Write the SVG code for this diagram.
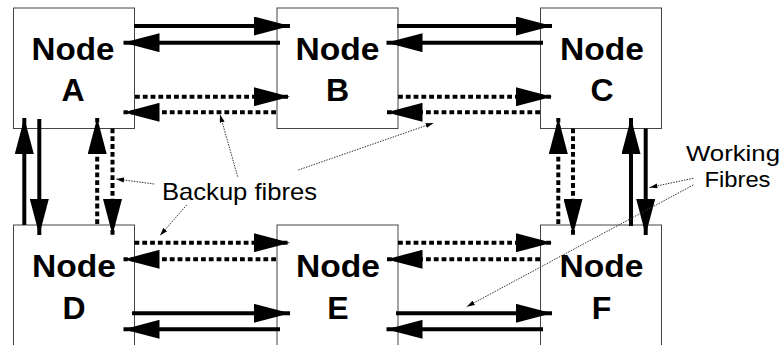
<svg xmlns="http://www.w3.org/2000/svg" width="783" height="345" viewBox="0 0 783 345">
<style>
.box{fill:#fff;stroke:#444;stroke-width:1}
.nt{font-family:"Liberation Sans",Arial,sans-serif;font-weight:bold;font-size:32px;fill:#000;text-anchor:middle}
.lbl{font-family:"Liberation Sans",Arial,sans-serif;font-size:24px;fill:#000}
.wf{font-family:"Liberation Sans",Arial,sans-serif;font-size:22px;fill:#000}
.s{fill:none;stroke:#000;stroke-width:4;marker-end:url(#ah)}
.d{fill:none;stroke:#000;stroke-width:4;stroke-dasharray:4.8 3;marker-end:url(#ah)}
.ld{fill:none;stroke:#333;stroke-width:1;stroke-dasharray:1.5 1.2;marker-end:url(#sa)}
</style>
<defs>
<marker id="ah" markerUnits="userSpaceOnUse" markerWidth="36" markerHeight="19" refX="36" refY="9.5" orient="auto">
<path d="M0,0 L36,9.5 L0,19 z" fill="#000"/>
</marker>
<marker id="sa" markerUnits="userSpaceOnUse" markerWidth="8" markerHeight="5" refX="8" refY="2.5" orient="auto">
<path d="M0,0 L8,2.5 L0,5 z" fill="#000"/>
</marker>
</defs>
<g id="nodeA"><rect class="box" x="13.5" y="8" width="121" height="120.5"/><text class="nt" x="73" y="60" textLength="83" lengthAdjust="spacingAndGlyphs">Node</text><text class="nt" x="73" y="101">A</text></g>
<g id="nodeB"><rect class="box" x="277" y="8" width="121" height="120.5"/><text class="nt" x="337.5" y="60" textLength="84" lengthAdjust="spacingAndGlyphs">Node</text><text class="nt" x="337.5" y="101">B</text></g>
<g id="nodeC"><rect class="box" x="540.5" y="8" width="121" height="120.5"/><text class="nt" x="602" y="60" textLength="84" lengthAdjust="spacingAndGlyphs">Node</text><text class="nt" x="602" y="101">C</text></g>
<g id="nodeD"><rect class="box" x="13.5" y="225" width="121" height="130"/><text class="nt" x="74" y="277" textLength="84" lengthAdjust="spacingAndGlyphs">Node</text><text class="nt" x="74" y="319">D</text></g>
<g id="nodeE"><rect class="box" x="277" y="225" width="121" height="130"/><text class="nt" x="338" y="277" textLength="84" lengthAdjust="spacingAndGlyphs">Node</text><text class="nt" x="338" y="319">E</text></g>
<g id="nodeF"><rect class="box" x="540.5" y="225" width="121" height="130"/><text class="nt" x="601.5" y="277" textLength="84" lengthAdjust="spacingAndGlyphs">Node</text><text class="nt" x="601.5" y="319">F</text></g>
<g id="connectors">
<path class="s" d="M134,26 H290"/>
<path class="s" d="M280,42.7 H123.5"/>
<path class="d" d="M135,96.7 H290"/>
<path class="d" d="M276,112.3 H123.5"/>
<path class="s" d="M397,26 H552"/>
<path class="s" d="M543,42.7 H386.5"/>
<path class="d" d="M398,96.7 H552"/>
<path class="d" d="M540,112.3 H386.5"/>
<path class="d" d="M134.5,242.7 H290"/>
<path class="d" d="M276,259.3 H123.5"/>
<path class="s" d="M132,313.3 H290"/>
<path class="s" d="M280,329.3 H123.5"/>
<path class="d" d="M398,242.7 H552"/>
<path class="d" d="M540,259.3 H386.5"/>
<path class="s" d="M396,313.3 H552"/>
<path class="s" d="M543,329.3 H386.5"/>
<path class="s" d="M24.3,225 V118"/>
<path class="s" d="M39.3,119 V235"/>
<path class="d" d="M97.2,224 V118"/>
<path class="d" d="M112.5,128.5 V235"/>
<path class="d" d="M558.3,224 V118"/>
<path class="d" d="M573,128.5 V235"/>
<path class="s" d="M631,226 V118"/>
<path class="s" d="M645.7,128.5 V235"/>
<path class="ld" d="M237.7,176.7 L220,114.5"/>
<path class="ld" d="M298.3,170 L433.5,123"/>
<path class="ld" d="M154,184 L116,179"/>
<path class="ld" d="M186.7,205 L160,235.5"/>
<path class="ld" d="M693.3,178.3 L649.5,187.5"/>
<path class="ld" d="M693.3,185 L466.7,306.7"/>
</g>
<g id="labels">
<text class="lbl" x="162" y="200" textLength="155" lengthAdjust="spacingAndGlyphs">Backup fibres</text>
<text class="wf" x="686" y="161" textLength="94" lengthAdjust="spacingAndGlyphs">Working</text>
<text class="wf" x="704.5" y="187" textLength="66" lengthAdjust="spacingAndGlyphs">Fibres</text>
</g>
</svg>
